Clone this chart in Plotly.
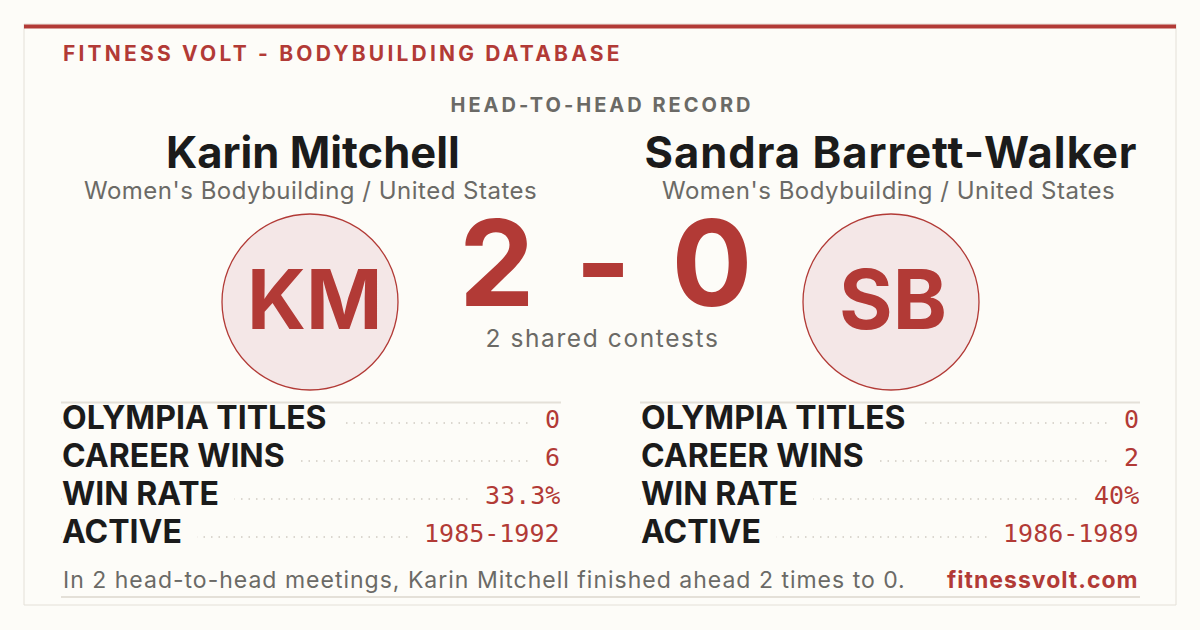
import json
import plotly.graph_objects as go

# Head-to-head data
names = ["Karin Mitchell", "Sandra Barrett-Walker"]
initials = ["KM", "SB"]
divisions = ["Women's Bodybuilding / United States", "Women's Bodybuilding / United States"]
score = [2, 0]
shared_contests = 2

stat_labels = ["OLYMPIA TITLES", "CAREER WINS", "WIN RATE", "ACTIVE"]
stats_a = ["0", "6", "33.3%", "1985-1992"]
stats_b = ["0", "2", "40%", "1986-1989"]

header = "FITNESS VOLT - BODYBUILDING DATABASE"
subheader = "HEAD-TO-HEAD RECORD"
site = "fitnessvolt.com"

# Colours / fonts
BG = "#fdfcf8"
RED = "#b23a36"
INK = "#1b1b1b"
GREY = "#6b6a66"
RULE = "#e4e0d8"
SANS = "Inter"
MONO = "DejaVu Sans Mono"
NB = "\u00a0"

# Layout (pixel space, y downwards)
col_center = [313, 891]
col_left = [61, 640]
col_right = [561, 1140]
row_y = [417, 455, 493, 531]

score_text = f"{score[0]} - {score[1]}"
shared_text = f"{shared_contests} shared contests"
footer = (f"In {shared_contests} head-to-head meetings, {names[0]} finished ahead "
          f"{score[0]} times to {score[1]}.")

fig = go.Figure()

# avatar circles
fig.add_trace(go.Scatter(
    x=[310, 891], y=[302, 302], mode="markers",
    marker=dict(size=176, color="#f4e7e7", line=dict(color=RED, width=1.3)),
    hoverinfo="skip", showlegend=False))

# dotted leaders (hidden under label/value boxes)
for c in range(2):
    for i in range(len(stat_labels)):
        fig.add_trace(go.Scatter(
            x=[col_left[c], col_right[c]], y=[row_y[i] + 6] * 2, mode="lines",
            line=dict(color="#cfcac1", width=1.5, dash="1.5px,6px"),
            hoverinfo="skip", showlegend=False))

ann = []
for c, vals in enumerate([stats_a, stats_b]):
    for i, lab in enumerate(stat_labels):
        ann.append(dict(x=col_left[c], y=row_y[i], text=lab + NB + NB, xanchor="left", yanchor="middle",
                        align="left", font=dict(family=SANS, size=32, weight=700, color=INK),
                        bgcolor=BG, borderpad=0, height=25))
        ann.append(dict(x=col_right[c], y=row_y[i] + 2, text=NB + vals[i], xanchor="right", yanchor="middle",
                        align="right", font=dict(family=MONO, size=25, color=RED),
                        bgcolor=BG, borderpad=0, height=25))

# names, divisions, initials
for c in range(2):
    ann.append(dict(x=col_center[c], y=152, text=names[c], xanchor="center", yanchor="middle",
                    font=dict(family=SANS, size=43.5, weight=700, color=INK)))
    ann.append(dict(x=col_center[c] - 3, y=190, text=divisions[c], xanchor="center", yanchor="middle",
                    font=dict(family=SANS, size=24, color=GREY)))
    ann.append(dict(x=[314, 893][c], y=299, text=initials[c], xanchor="center", yanchor="middle",
                    font=dict(family=SANS, size=82, weight=700, color=RED)))

# header and score
ann.append(dict(x=61, y=53, text=header, xanchor="left", yanchor="middle", align="left",
                font=dict(family=SANS, size=21, weight=700, color=RED)))
ann.append(dict(x=602, y=105, text=subheader, xanchor="center", yanchor="middle",
                font=dict(family=SANS, size=20, weight=700, color=GREY)))
ann.append(dict(x=608, y=262, text=score_text, xanchor="center", yanchor="middle",
                font=dict(family=SANS, size=120, weight=700, color=RED)))
ann.append(dict(x=602, y=338, text=shared_text, xanchor="center", yanchor="middle",
                font=dict(family=SANS, size=24.5, color=GREY)))

# footer
ann.append(dict(x=61, y=580, text=footer, xanchor="left", yanchor="middle", align="left",
                font=dict(family=SANS, size=23, color=GREY)))
ann.append(dict(x=1141, y=580, text=site, xanchor="right", yanchor="middle", align="right",
                font=dict(family=SANS, size=23, weight=700, color=RED)))

for a in ann:
    a.update(xref="x", yref="y", showarrow=False)

shapes = [
    dict(type="rect", x0=24, x1=1176, y0=24, y1=605, line=dict(color=RULE, width=1), fillcolor=BG, layer="below"),
    dict(type="line", x0=24, x1=1176, y0=26.5, y1=26.5, line=dict(color=RED, width=4), layer="below"),
    dict(type="line", x0=61, x1=561, y0=402.5, y1=402.5, line=dict(color=RULE, width=2), layer="below"),
    dict(type="line", x0=640, x1=1140, y0=402.5, y1=402.5, line=dict(color=RULE, width=2), layer="below"),
    dict(type="line", x0=61, x1=1140, y0=597, y1=597, line=dict(color=RULE, width=2), layer="below"),
]

fig.update_layout(
    width=1200, height=630,
    margin=dict(l=0, r=0, t=0, b=0),
    paper_bgcolor=BG, plot_bgcolor=BG,
    xaxis=dict(range=[0, 1200], visible=False, fixedrange=True),
    yaxis=dict(range=[630, 0], visible=False, fixedrange=True),
    annotations=ann, shapes=shapes, showlegend=False,
)

# letter spacing (px) for the tracked-out texts, applied after plotting
spacing = {header: 3.2, subheader: 3.0, score_text: 6, shared_text: 1.6, footer: 1.0, site: 1.0,
           divisions[0]: 0.5, names[1]: 1.0}
post = """
document.body.style.margin = '0';
var sp = %s;
function track() {
  document.querySelectorAll('text.annotation-text').forEach(function (t) {
    var k = t.textContent;
    if (sp[k] !== undefined) { t.style.letterSpacing = sp[k] + 'px'; }
  });
}
track();
document.getElementById('{plot_id}').on('plotly_afterplot', track);
""" % json.dumps(spacing)

fig.write_html("out.html", post_script=post, config={"displayModeBar": False})
